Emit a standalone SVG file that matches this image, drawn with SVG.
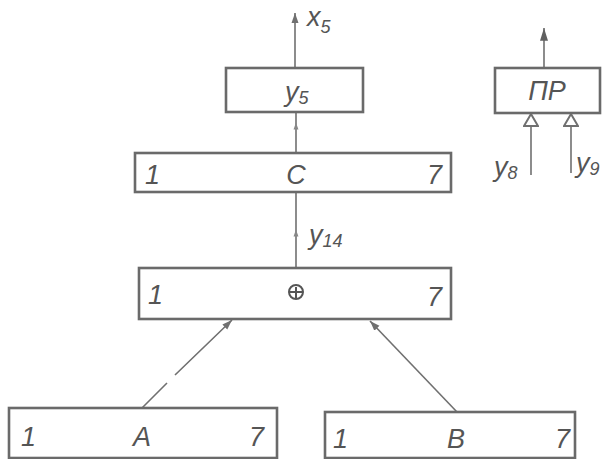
<svg xmlns="http://www.w3.org/2000/svg" width="609" height="459" viewBox="0 0 609 459">
<style>
.box{fill:none;stroke:#6a6a6a;stroke-width:2.6}
.ln{fill:none;stroke:#707070;stroke-width:1.6}
.t{font-family:"Liberation Sans",Arial,sans-serif;font-style:italic;fill:#555;font-size:27px}
.s{font-size:18px}
.m{text-anchor:middle}
</style>
<defs>
<marker id="fa" viewBox="0 0 10 10" refX="10" refY="5" markerWidth="10" markerHeight="10" markerUnits="userSpaceOnUse" orient="auto">
<path d="M0,1.5 L10,5 L0,8.5 Z" fill="#707070"/>
</marker>
<marker id="pa" viewBox="0 0 16 10" refX="16" refY="5" markerWidth="16" markerHeight="8" markerUnits="userSpaceOnUse" orient="auto">
<path d="M0,0 L16,5 L0,10 Z" fill="#606060"/>
</marker>
<marker id="sm" viewBox="0 0 10 10" refX="5" refY="5" markerWidth="7" markerHeight="7" markerUnits="userSpaceOnUse" orient="auto">
<path d="M0,1.5 L10,5 L0,8.5 Z" fill="#888"/>
</marker>
<marker id="ha" viewBox="0 0 14 16" refX="13" refY="8" markerWidth="14" markerHeight="16" markerUnits="userSpaceOnUse" orient="auto">
<path d="M1,1 L13,8 L1,15 Z" fill="#fff" stroke="#707070" stroke-width="2"/>
</marker>
</defs>

<g id="connectors">
<line class="ln" x1="295" y1="68" x2="295" y2="13" marker-end="url(#fa)"/>
<polyline class="ln" points="296,153 296,126 296,112" marker-mid="url(#sm)"/>
<polyline class="ln" points="296,268 296,233 296,192" marker-mid="url(#sm)"/>
<path class="ln" d="M142,408 L167,383 M175,375 L232,320" marker-end="url(#fa)"/>
<line class="ln" x1="457" y1="412" x2="370" y2="321" marker-end="url(#fa)"/>
<line class="ln" x1="544" y1="68" x2="544" y2="28" stroke-width="2.2" marker-end="url(#pa)"/>
<line class="ln" x1="531" y1="175" x2="531" y2="114" marker-end="url(#ha)"/>
<line class="ln" x1="571" y1="173" x2="571" y2="114" marker-end="url(#ha)"/>
</g>

<g id="x5-label">
<text class="t" x="307" y="26">x<tspan class="s" dy="7">5</tspan></text>
</g>

<g id="node-y5">
<rect class="box" x="226" y="68" width="137" height="44"/>
<text class="t" x="285" y="101">y<tspan class="s" dy="3">5</tspan></text>
</g>

<g id="node-C">
<rect class="box" x="135" y="153" width="316" height="39"/>
<text class="t" x="145" y="184">1</text>
<text class="t m" x="296" y="184">C</text>
<text class="t" x="427" y="184">7</text>
</g>

<g id="y14-label">
<text class="t" x="309" y="244">y<tspan class="s" dy="3">14</tspan></text>
</g>

<g id="node-xor">
<rect class="box" x="139" y="268" width="312" height="51"/>
<text class="t" x="148" y="304">1</text>
<circle cx="296" cy="292" r="7" fill="none" stroke="#555" stroke-width="2"/>
<line x1="289" y1="292" x2="303" y2="292" stroke="#555" stroke-width="2"/>
<line x1="296" y1="287" x2="296" y2="299" stroke="#555" stroke-width="2"/>
<text class="t" x="427" y="306">7</text>
</g>

<g id="node-A">
<rect class="box" x="9" y="408" width="268" height="50"/>
<text class="t" x="21" y="446">1</text>
<text class="t m" x="142" y="446">A</text>
<text class="t" x="249" y="446">7</text>
</g>

<g id="node-B">
<rect class="box" x="325" y="412" width="250" height="46"/>
<text class="t" x="333" y="448">1</text>
<text class="t m" x="456" y="448">B</text>
<text class="t" x="555" y="448">7</text>
</g>

<g id="node-PR">
<rect class="box" x="495" y="68" width="105" height="45"/>
<text class="t m" x="547" y="100">ПР</text>
</g>

<g id="y8-label">
<text class="t" x="494" y="176">y<tspan class="s" dy="3">8</tspan></text>
</g>
<g id="y9-label">
<text class="t" x="576" y="172">y<tspan class="s" dy="3">9</tspan></text>
</g>
</svg>
